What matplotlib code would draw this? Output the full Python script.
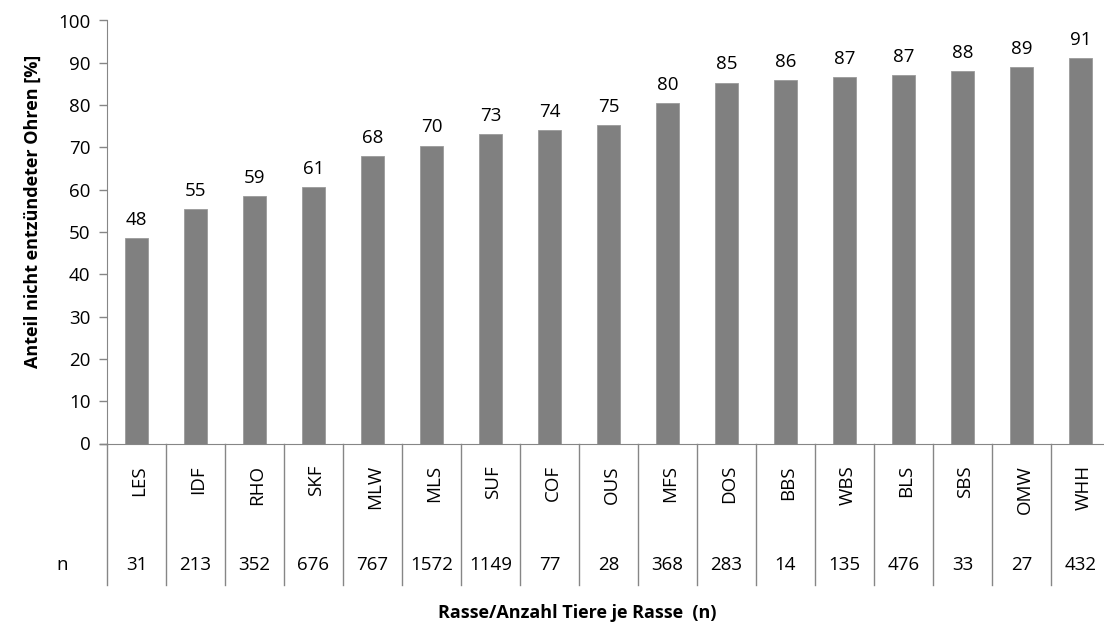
import matplotlib
matplotlib.use("Agg")
import matplotlib.pyplot as plt
import matplotlib.transforms as mtransforms

# ----- Data -----
breeds = ["LES", "IDF", "RHO", "SKF", "MLW", "MLS", "SUF", "COF", "OUS",
          "MFS", "DOS", "BBS", "WBS", "BLS", "SBS", "OMW", "WHH"]
share = [48.5, 55.4, 58.5, 60.6, 67.9, 70.4, 73.1, 74.1, 75.2,
         80.4, 85.3, 85.9, 86.6, 87.0, 88.0, 89.0, 91.1]
labels = [48, 55, 59, 61, 68, 70, 73, 74, 75, 80, 85, 86, 87, 87, 88, 89, 91]
n_animals = [31, 213, 352, 676, 767, 1572, 1149, 77, 28,
             368, 283, 14, 135, 476, 33, 27, 432]

plt.rcParams["font.family"] = ["Open Sans", "DejaVu Sans"]

W, H = 1104, 637
fig = plt.figure(figsize=(W / 100, H / 100), dpi=100)

# axes in pixel terms
ax_left, ax_top, ax_bottom, cat_w = 107, 20.5, 443.5, 59.0
ax = fig.add_axes([ax_left / W, (H - ax_bottom) / H,
                   len(breeds) * cat_w / W, (ax_bottom - ax_top) / H])
ax_h = ax_bottom - ax_top

def ay(py):
    # pixel y (from top) -> axes fraction
    return (ax_bottom - py) / ax_h

fs = 13.5
grey = "#868686"
x = list(range(len(breeds)))
ax.bar(x, share, width=0.4, color="#808080", edgecolor="#9a9a9a", linewidth=0.6, zorder=2)

for xi, v, lab in zip(x, share, labels):
    ax.annotate(str(lab), (xi, v), xytext=(0, 9.6), textcoords="offset points",
                ha="center", va="baseline", fontsize=fs, color="black")

ax.set_xlim(-0.5, len(breeds) - 0.5)
ax.set_ylim(0, 100)
ax.set_yticks(range(0, 101, 10))
ax.tick_params(axis="y", direction="out", length=6, width=1, color=grey,
               labelsize=fs, pad=6)
ax.set_xticks([])
for s in ["top", "right"]:
    ax.spines[s].set_visible(False)
ax.spines["left"].set_color(grey)
ax.spines["bottom"].set_color(grey)
ax.spines["left"].set_bounds(0, 100)

# table below the axis
trans = mtransforms.blended_transform_factory(ax.transData, ax.transAxes)
y_low = ay(585)
for b in range(len(breeds) + 1):
    ax.plot([b - 0.5, b - 0.5], [0, y_low], transform=trans, color=grey,
            linewidth=1, clip_on=False)
# tick at y=0 extends left
ax.plot([-0.62, -0.5], [0, 0], transform=trans, color=grey, linewidth=1, clip_on=False)

for xi, br, n in zip(x, breeds, n_animals):
    ax.text(xi + 0.05, ay(465), br, transform=trans, rotation=90, ha="center",
            va="top", fontsize=fs)
    ax.text(xi, ay(565.5), str(n), transform=trans, ha="center", va="center",
            fontsize=fs)

fig.text(62 / W, 1 - 565.5 / H, "n", ha="center", va="center", fontsize=fs)

fig.text(577 / W, 1 - 613 / H, "Rasse/Anzahl Tiere je Rasse  (n)", ha="center",
         va="center", fontsize=13, fontweight="bold")
fig.text(33 / W, 1 - 211 / H, "Anteil nicht entzündeter Ohren [%]", ha="center",
         va="center", rotation=90, fontsize=13, fontweight="bold")

fig.savefig("out.png", dpi=100)
